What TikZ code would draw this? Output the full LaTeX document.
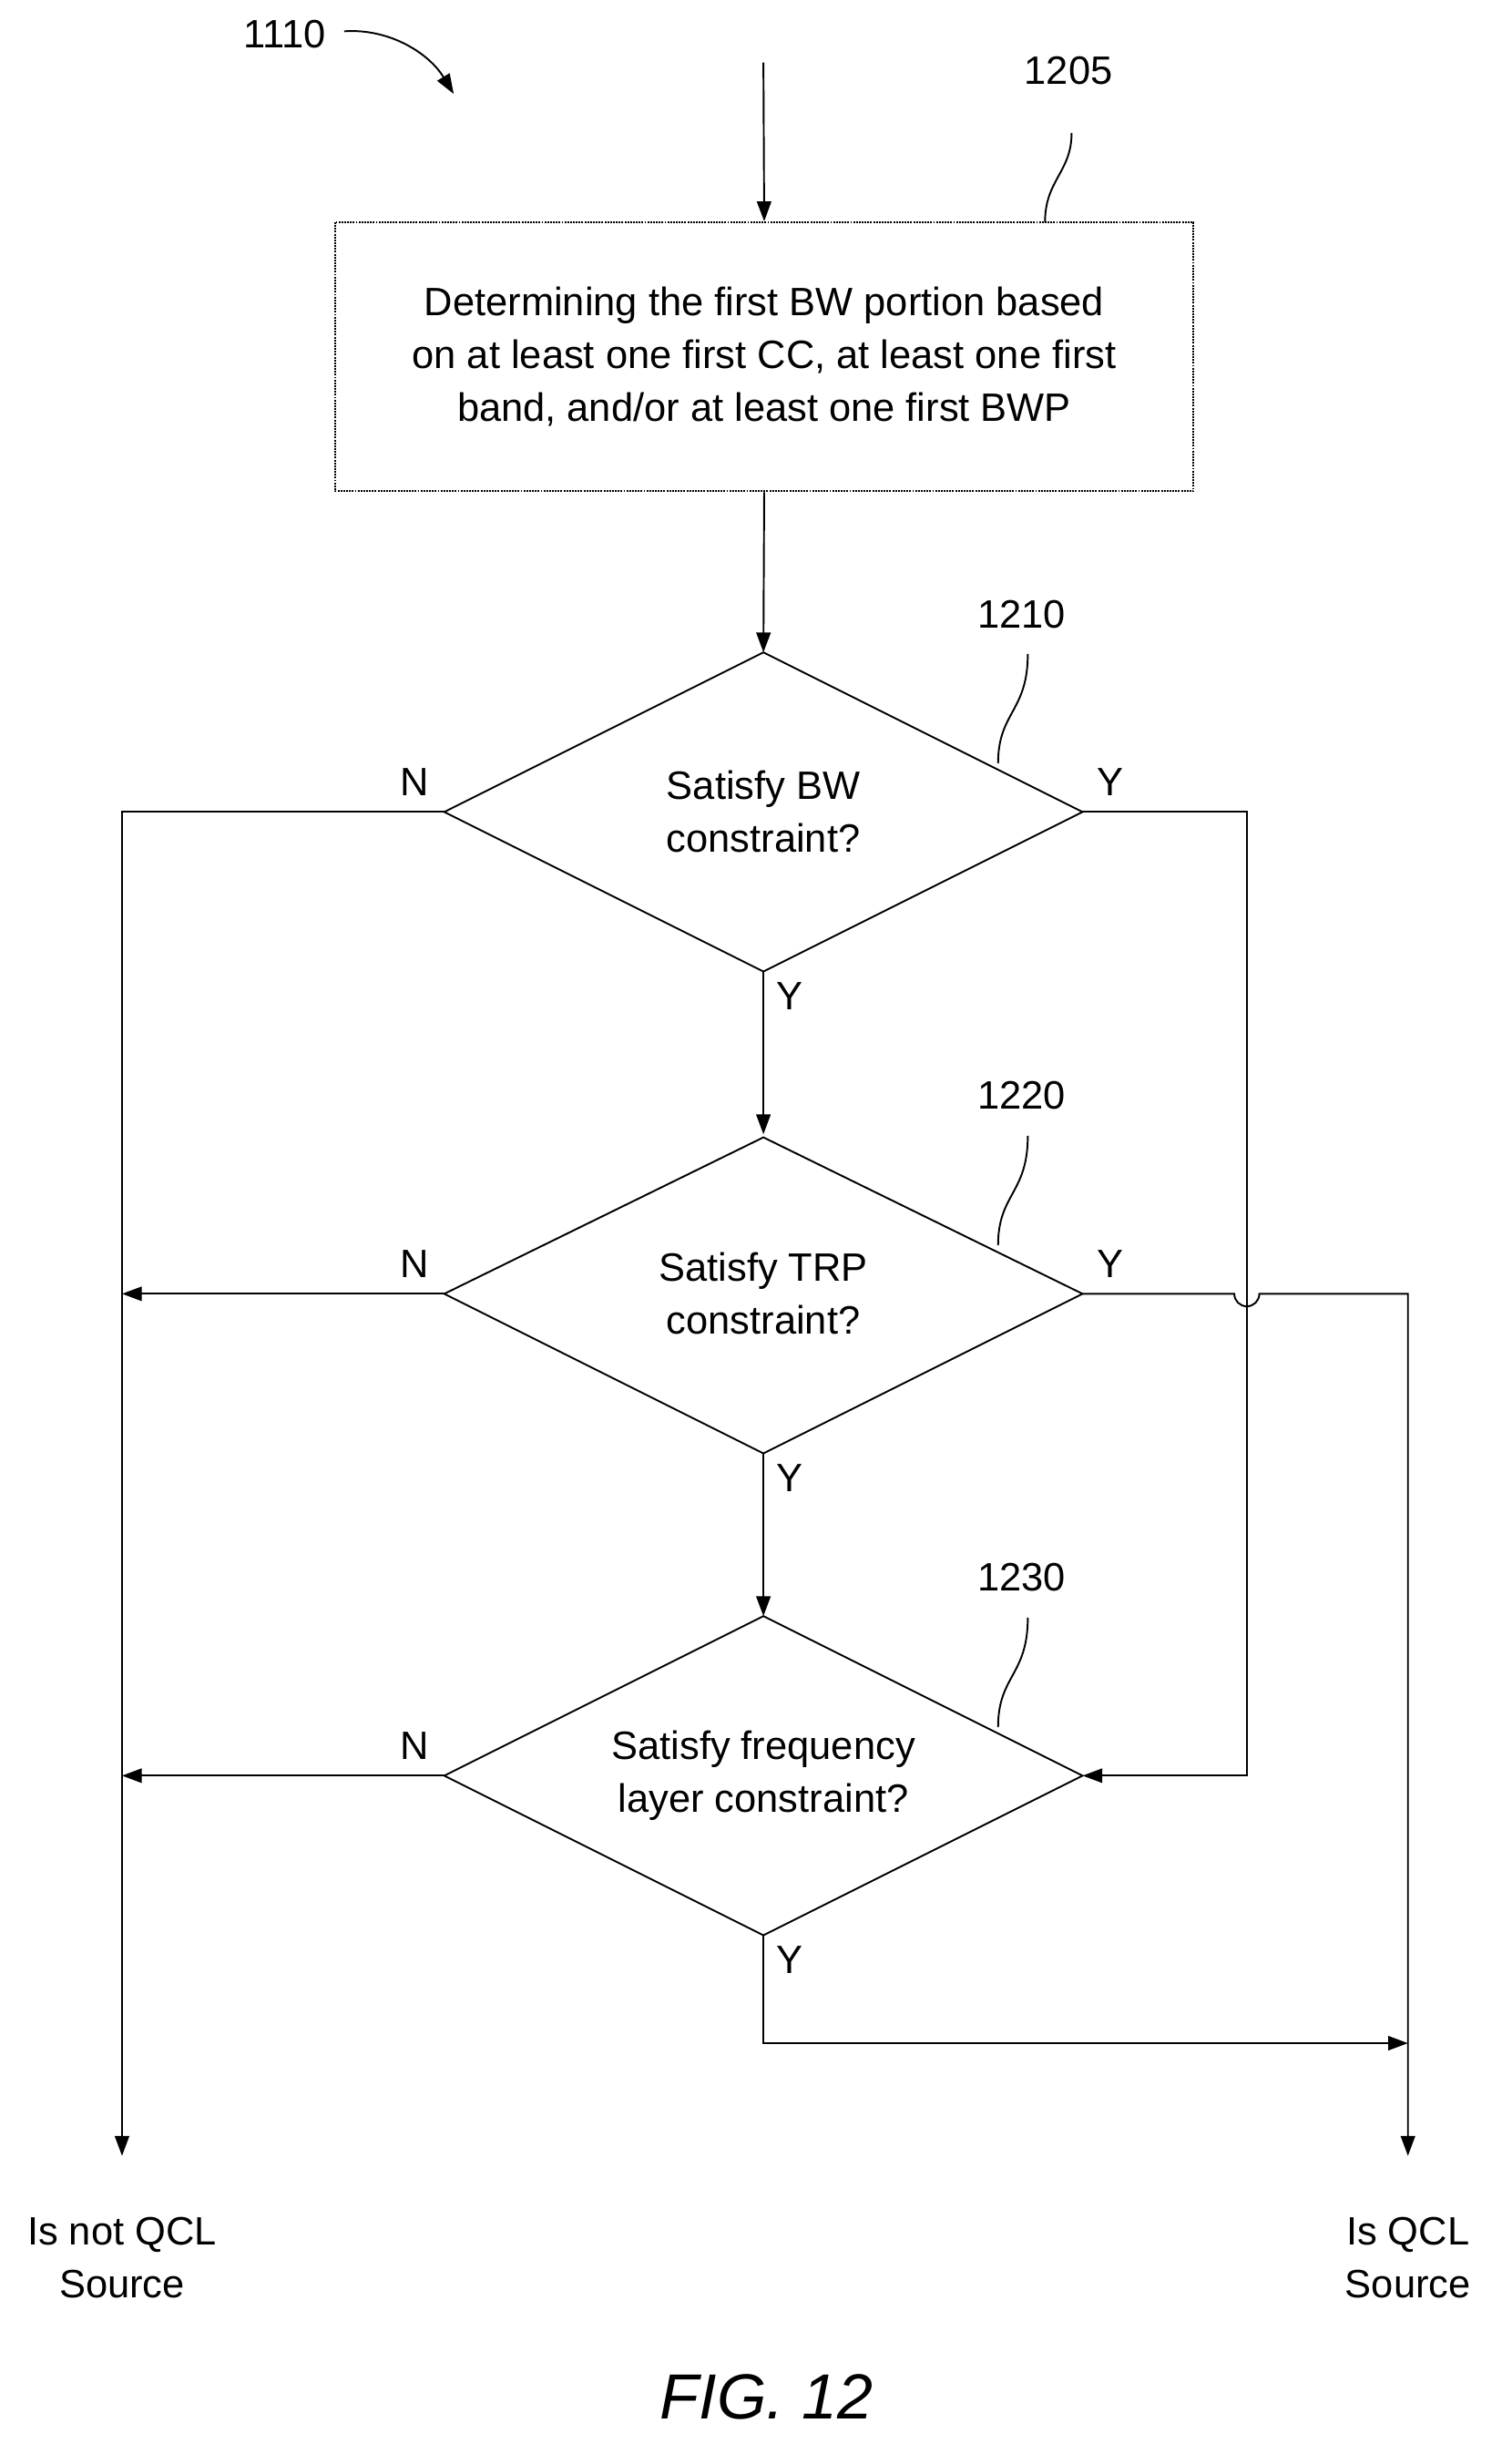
\documentclass[tikz,border=0pt]{standalone}
\usepackage{fontspec}
\setmainfont{Liberation Sans}
\usetikzlibrary{shapes.geometric,arrows.meta}
\begin{document}
\begin{tikzpicture}[x=0.05cm,y=-0.05cm,
  every node/.style={font=\fontsize{36}{48}\selectfont,align=center,inner sep=0},
  ln/.style={line width=1.6pt},
  ar/.style={ln,-{Triangle[length=18pt,width=13pt]}},
  dia/.style={draw,ln,diamond,minimum width=408\pgflinewidth,aspect=2},
  lbl/.style={font=\fontsize{36}{48}\selectfont}]
\useasboundingbox (0,0) rectangle (960,1575);
\coordinate (start) at (488,40);
\node[draw,ln,densely dotted,minimum width=549*0.05cm,minimum height=172*0.05cm] (b) at (488.5,228) {Determining the first BW portion based\\on at least one first CC, at least one first\\band, and/or at least one first BWP};
\draw[ar] (start) -- (b.north);
\node (l1205) at (683,45) {1205};
\draw[ln] (668,142) .. controls (668,115) and (685,110) .. (685,85);
\coordinate (d1t) at (488,417);
\draw[ln] (488,417) -- (692,519) -- (488,621) -- (284,519) -- cycle;
\node (d1) at (488,519) {Satisfy BW\\constraint?};
\draw[ar] (b.south) -- (d1t);
\node (l1210) at (653,393) {1210};
\draw[ln] (638,488) .. controls (638,455) and (657,455) .. (657,418);
\draw[ln] (488,727) -- (692,827) -- (488,929) -- (284,827) -- cycle;
\node (d2) at (488,827) {Satisfy TRP\\constraint?};
\node (l1220) at (653,700) {1220};
\draw[ln] (638,796) .. controls (638,763) and (657,763) .. (657,726);
\draw[ln] (488,1033) -- (692,1135) -- (488,1237) -- (284,1135) -- cycle;
\node (d3) at (488,1135) {Satisfy frequency\\layer constraint?};
\node (l1230) at (653,1008) {1230};
\draw[ln] (638,1104) .. controls (638,1071) and (657,1071) .. (657,1034);
\draw[ar] (488,621) -- (488,725);
\draw[ar] (488,929) -- (488,1033);
\node at (265,500) {N}; \node at (710,500) {Y};
\node at (265,808) {N}; \node at (710,808) {Y};
\node at (265,1116) {N};
\node at (505,637) {Y}; \node at (505,945) {Y}; \node at (505,1253) {Y};
\draw[ar] (284,519) -- (78,519) -- (78,1378);
\draw[ar] (284,827) -- (78,827);
\draw[ar] (284,1135) -- (78,1135);
\draw[ar] (692,519) -- (797,519) -- (797,1135) -- (692,1135);
\draw[ar] (692,827) -- (789,827) arc[start angle=180,end angle=0,radius=8] -- (900,827) -- (900,1378);
\draw[ar] (488,1237) -- (488,1306) -- (900,1306);
\node (nq) at (78,1443) {Is not QCL\\Source};
\node (q) at (900,1443) {Is QCL\\Source};
\node at (490,1532) {\fontsize{58}{70}\selectfont\itshape FIG. 12};
\node (l1110) at (182,22) {1110};
\draw[ar] (220,20) .. controls (250,18) and (275,35) .. (290,60);
\end{tikzpicture}
\end{document}
